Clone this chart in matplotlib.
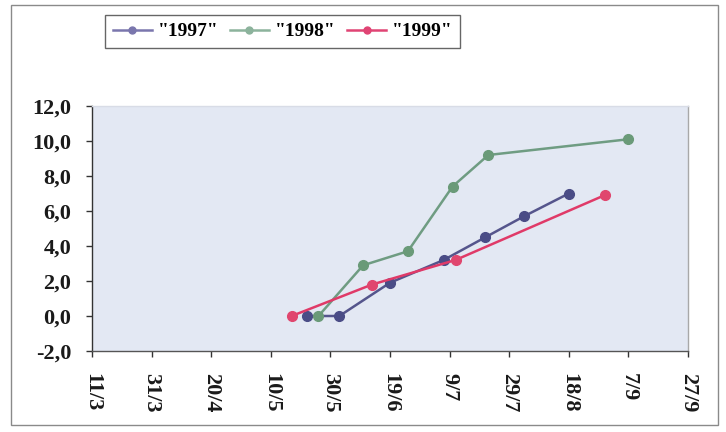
import datetime as dt
import matplotlib
matplotlib.use("Agg")
import matplotlib.pyplot as plt
from matplotlib.lines import Line2D
from matplotlib.patches import Rectangle

# Cumulative values per season, dated day/month
series_names = ['"1997"', '"1998"', '"1999"']
dates_1997 = ["22/5", "2/6", "19/6", "7/7", "21/7", "3/8", "18/8"]
values_1997 = [0.0, 0.0, 1.9, 3.2, 4.5, 5.7, 7.0]
dates_1998 = ["26/5", "10/6", "25/6", "10/7", "22/7", "7/9"]
values_1998 = [0.0, 2.9, 3.7, 7.4, 9.2, 10.1]
dates_1999 = ["17/5", "13/6", "11/7", "30/8"]
values_1999 = [0.0, 1.8, 3.2, 6.9]
tick_labels = ["11/3", "31/3", "20/4", "10/5", "30/5", "19/6",
               "9/7", "29/7", "18/8", "7/9", "27/9"]
y_ticks = [-2, 0, 2, 4, 6, 8, 10, 12]

line_colors = ["#55558c", "#6f9c82", "#e03a68"]
marker_colors = ["#4a4c86", "#6a9a78", "#e0466e"]
legend_colors = ["#7a76ad", "#8cb39c", "#e04474"]

YEAR = 2001


def to_date(s):
    d, m = s.split("/")
    return dt.date(YEAR, int(m), int(d))


plt.rcParams["font.family"] = ["Liberation Serif", "DejaVu Serif"]
plt.rcParams["font.weight"] = "bold"

fig = plt.figure(figsize=(7.26, 4.32), dpi=100)
fig.patch.set_facecolor("white")

# outer chart frame
fig.add_artist(Rectangle((11 / 726, 1 - 425 / 432), (718 - 11) / 726, (425 - 5) / 432,
                         transform=fig.transFigure, fill=False,
                         edgecolor="#8a8a8a", linewidth=1.0))

ax = fig.add_axes([92 / 726, 1 - 351 / 432, (688 - 92) / 726, (351 - 106) / 432])
ax.set_facecolor("#e3e8f3")

all_dates = [dates_1997, dates_1998, dates_1999]
all_values = [values_1997, values_1998, values_1999]
for name, ds, vs, lc, mc in zip(series_names, all_dates, all_values,
                                line_colors, marker_colors):
    ax.plot([to_date(s) for s in ds], vs, color=lc, linewidth=1.8,
            marker="o", markersize=7, markerfacecolor=mc,
            markeredgecolor=mc, label=name, zorder=3)

tick_dates = [to_date(s) for s in tick_labels]
ax.set_xlim(tick_dates[0], tick_dates[-1])
ax.set_xticks(tick_dates)
ax.set_xticklabels(tick_labels, rotation=-90, fontsize=16, fontweight="bold")
ax.set_ylim(-2, 12)
ax.set_yticks(y_ticks)
ax.set_yticklabels([f"{v:.1f}".replace(".", ",") for v in y_ticks],
                   fontsize=16, fontweight="bold")

ax.tick_params(axis="x", direction="out", length=4, width=1, pad=12, colors="#333333")
ax.tick_params(axis="y", direction="out", length=4, width=1, pad=11, colors="#333333")
for lab in ax.get_xticklabels() + ax.get_yticklabels():
    lab.set_color("#1a1a1a")

ax.spines["left"].set_color("#333333")
ax.spines["bottom"].set_color("#555555")
ax.spines["right"].set_color("#a8a8a8")
ax.spines["top"].set_color("#d8dce6")
for sp in ax.spines.values():
    sp.set_linewidth(1.0)

# legend keys: thinner lines with small markers
legend_handles = [Line2D([], [], color=c, linewidth=1.8, marker="o", markersize=5,
                         markerfacecolor=c, markeredgecolor=c)
                  for c in legend_colors]
leg = fig.legend(handles=legend_handles, labels=series_names, loc="upper left",
                 bbox_to_anchor=(105 / 726, 1 - 15 / 432), borderaxespad=0,
                 ncol=3, frameon=True, fancybox=False, framealpha=1,
                 edgecolor="#666666", handlelength=2.0, handletextpad=0.3,
                 columnspacing=0.6, borderpad=0.4,
                 prop={"family": "Liberation Serif", "weight": "bold", "size": 14})
leg.get_frame().set_linewidth(1.0)

fig.savefig("out.png", dpi=100, facecolor="white")
